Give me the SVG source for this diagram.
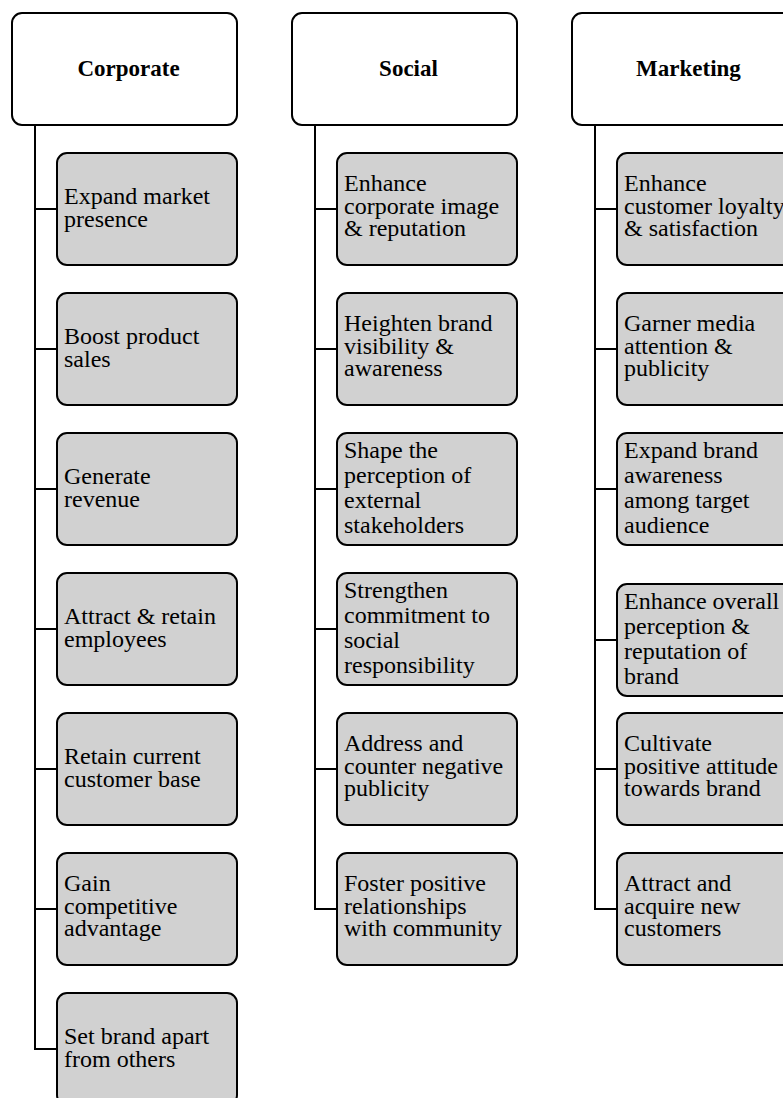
<svg xmlns="http://www.w3.org/2000/svg" width="783" height="1098" viewBox="0 0 783 1098">
  <style>
    .head { fill: #ffffff; stroke: #000000; stroke-width: 2; }
    .item { fill: #d1d1d1; stroke: #000000; stroke-width: 2; }
    .wire { fill: none; stroke: #000000; stroke-width: 2; }
    .htxt { font-family: "Liberation Serif", "Times New Roman", serif; font-size: 23px; font-weight: bold; fill: #000000; text-anchor: middle; }
    .itxt { font-family: "Liberation Serif", "Times New Roman", serif; font-size: 24px; fill: #000000; }
  </style>
  <rect width="783" height="1098" fill="#ffffff"/>

  <!-- connectors: one trunk per column, a branch to each item -->
  <g id="connectors" class="wire">
    <path d="M35 125 V1049 H57 M35 209 H57 M35 349 H57 M35 489 H57 M35 629 H57 M35 769 H57 M35 909 H57"/>
    <path d="M315 125 V909 H337 M315 209 H337 M315 349 H337 M315 489 H337 M315 629 H337 M315 769 H337"/>
    <path d="M595 125 V909 H617 M595 209 H617 M595 349 H617 M595 489 H617 M595 640 H617 M595 769 H617"/>
  </g>

  <!-- column headers -->
  <g id="corporate"><rect class="head" x="12" y="13" width="225" height="112" rx="10"/><text class="htxt" x="128.5" y="76">Corporate</text></g>
  <g id="social"><rect class="head" x="292" y="13" width="225" height="112" rx="10"/><text class="htxt" x="408.5" y="76">Social</text></g>
  <g id="marketing"><rect class="head" x="572" y="13" width="225" height="112" rx="10"/><text class="htxt" x="688.5" y="76">Marketing</text></g>

  <!-- Corporate items -->
  <g id="c1"><rect class="item" x="57" y="153" width="180" height="112" rx="10"/><text class="itxt"><tspan x="64" y="204">Expand market</tspan><tspan x="64" y="227">presence</tspan></text></g>
  <g id="c2"><rect class="item" x="57" y="293" width="180" height="112" rx="10"/><text class="itxt"><tspan x="64" y="344">Boost product</tspan><tspan x="64" y="367">sales</tspan></text></g>
  <g id="c3"><rect class="item" x="57" y="433" width="180" height="112" rx="10"/><text class="itxt"><tspan x="64" y="484">Generate</tspan><tspan x="64" y="507">revenue</tspan></text></g>
  <g id="c4"><rect class="item" x="57" y="573" width="180" height="112" rx="10"/><text class="itxt"><tspan x="64" y="624">Attract &amp; retain</tspan><tspan x="64" y="647">employees</tspan></text></g>
  <g id="c5"><rect class="item" x="57" y="713" width="180" height="112" rx="10"/><text class="itxt"><tspan x="64" y="764">Retain current</tspan><tspan x="64" y="787">customer base</tspan></text></g>
  <g id="c6"><rect class="item" x="57" y="853" width="180" height="112" rx="10"/><text class="itxt"><tspan x="64" y="891">Gain</tspan><tspan x="64" y="913.5">competitive</tspan><tspan x="64" y="936">advantage</tspan></text></g>
  <g id="c7"><rect class="item" x="57" y="993" width="180" height="112" rx="10"/><text class="itxt"><tspan x="64" y="1044">Set brand apart</tspan><tspan x="64" y="1067">from others</tspan></text></g>

  <!-- Social items -->
  <g id="s1"><rect class="item" x="337" y="153" width="180" height="112" rx="10"/><text class="itxt"><tspan x="344" y="191">Enhance</tspan><tspan x="344" y="213.5">corporate image</tspan><tspan x="344" y="236">&amp; reputation</tspan></text></g>
  <g id="s2"><rect class="item" x="337" y="293" width="180" height="112" rx="10"/><text class="itxt"><tspan x="344" y="331">Heighten brand</tspan><tspan x="344" y="353.5">visibility &amp;</tspan><tspan x="344" y="376">awareness</tspan></text></g>
  <g id="s3"><rect class="item" x="337" y="433" width="180" height="112" rx="10"/><text class="itxt"><tspan x="344" y="457.5">Shape the</tspan><tspan x="344" y="482.5">perception of</tspan><tspan x="344" y="507.5">external</tspan><tspan x="344" y="532.5">stakeholders</tspan></text></g>
  <g id="s4"><rect class="item" x="337" y="573" width="180" height="112" rx="10"/><text class="itxt"><tspan x="344" y="597.5">Strengthen</tspan><tspan x="344" y="622.5">commitment to</tspan><tspan x="344" y="647.5">social</tspan><tspan x="344" y="672.5">responsibility</tspan></text></g>
  <g id="s5"><rect class="item" x="337" y="713" width="180" height="112" rx="10"/><text class="itxt"><tspan x="344" y="751">Address and</tspan><tspan x="344" y="773.5">counter negative</tspan><tspan x="344" y="796">publicity</tspan></text></g>
  <g id="s6"><rect class="item" x="337" y="853" width="180" height="112" rx="10"/><text class="itxt"><tspan x="344" y="891">Foster positive</tspan><tspan x="344" y="913.5">relationships</tspan><tspan x="344" y="936">with community</tspan></text></g>

  <!-- Marketing items -->
  <g id="m1"><rect class="item" x="617" y="153" width="180" height="112" rx="10"/><text class="itxt"><tspan x="624" y="191">Enhance</tspan><tspan x="624" y="213.5">customer loyalty</tspan><tspan x="624" y="236">&amp; satisfaction</tspan></text></g>
  <g id="m2"><rect class="item" x="617" y="293" width="180" height="112" rx="10"/><text class="itxt"><tspan x="624" y="331">Garner media</tspan><tspan x="624" y="353.5">attention &amp;</tspan><tspan x="624" y="376">publicity</tspan></text></g>
  <g id="m3"><rect class="item" x="617" y="433" width="180" height="112" rx="10"/><text class="itxt"><tspan x="624" y="457.5">Expand brand</tspan><tspan x="624" y="482.5">awareness</tspan><tspan x="624" y="507.5">among target</tspan><tspan x="624" y="532.5">audience</tspan></text></g>
  <g id="m4"><rect class="item" x="617" y="584" width="180" height="112" rx="10"/><text class="itxt"><tspan x="624" y="608.5">Enhance overall</tspan><tspan x="624" y="633.5">perception &amp;</tspan><tspan x="624" y="658.5">reputation of</tspan><tspan x="624" y="683.5">brand</tspan></text></g>
  <g id="m5"><rect class="item" x="617" y="713" width="180" height="112" rx="10"/><text class="itxt"><tspan x="624" y="751">Cultivate</tspan><tspan x="624" y="773.5">positive attitude</tspan><tspan x="624" y="796">towards brand</tspan></text></g>
  <g id="m6"><rect class="item" x="617" y="853" width="180" height="112" rx="10"/><text class="itxt"><tspan x="624" y="891">Attract and</tspan><tspan x="624" y="913.5">acquire new</tspan><tspan x="624" y="936">customers</tspan></text></g>
</svg>
